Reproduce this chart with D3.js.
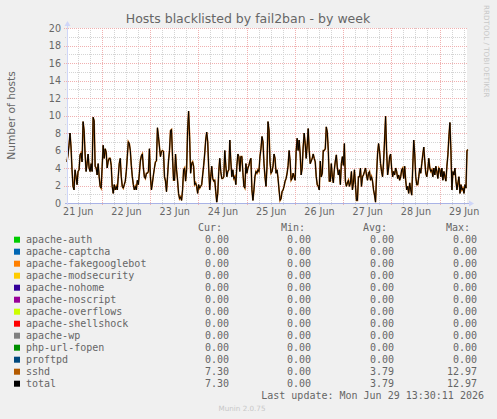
<!DOCTYPE html>
<html>
<head>
<meta charset="utf-8">
<script src="https://cdn.jsdelivr.net/npm/d3@7"></script>
<style>
body { margin: 0; background: #f0f0f0; }
svg { display: block; }
</style>
</head>
<body>
<script>
const width = 497;
const height = 419;

// plot area (canvas)
const x0 = 67, x1 = 467;
const yTop = 28, yBottom = 203;

const names = ["apache-auth", "apache-captcha", "apache-fakegooglebot", "apache-modsecurity",
    "apache-nohome", "apache-noscript", "apache-overflows", "apache-shellshock", "apache-wp",
    "php-url-fopen", "proftpd", "sshd", "total"];
const colors = ["#00CC00", "#0066B3", "#FF8000", "#FFCC00", "#330099", "#990099", "#CCFF00",
    "#FF0000", "#808080", "#008F00", "#00487D", "#B35A00", "#000000"];
const curVals = ["0.00", "0.00", "0.00", "0.00", "0.00", "0.00", "0.00", "0.00", "0.00", "0.00", "0.00", "7.30", "7.30"];
const minVals = ["0.00", "0.00", "0.00", "0.00", "0.00", "0.00", "0.00", "0.00", "0.00", "0.00", "0.00", "0.00", "0.00"];
const avgVals = ["0.00", "0.00", "0.00", "0.00", "0.00", "0.00", "0.00", "0.00", "0.00", "0.00", "0.00", "3.79", "3.79"];
const maxVals = ["0.00", "0.00", "0.00", "0.00", "0.00", "0.00", "0.00", "0.00", "0.00", "0.00", "0.00", "12.97", "12.97"];

const yMajor = [0, 2, 4, 6, 8, 10, 12, 14, 16, 18, 20];
const yMinor = [1, 3, 5, 7, 9, 11, 13, 15, 17, 19];
const dayLabels = ["21 Jun", "22 Jun", "23 Jun", "24 Jun", "25 Jun", "26 Jun", "27 Jun", "28 Jun", "29 Jun"];

const start = new Date(2026, 5, 21, 6, 40);
const end = new Date(2026, 5, 29, 13, 40);

// sshd, 30 min samples from start
const sshd = [
    4.7, 5.5, 6.6, 8.0, 6.4, 3.8, 1.9, 1.5, 3.8, 3.0, 2.1, 3.6, 3.8, 5.5, 5.7, 4.7, 9.3, 8.3, 5.6, 3.6,
    4.5, 5.6, 4.0, 3.6, 4.5, 3.6, 9.8, 9.4, 4.2, 4.0, 3.2, 4.5, 3.0, 1.9, 1.7, 4.2, 6.6, 5.1, 6.2, 5.8,
    4.0, 4.8, 5.1, 5.1, 4.3, 1.9, 1.1, 2.1, 1.5, 1.9, 1.5, 3.0, 4.5, 5.1, 3.0, 1.9, 1.7, 2.1, 2.5, 3.6,
    5.3, 7.0, 6.8, 6.0, 4.3, 3.0, 2.1, 1.5, 1.9, 1.5, 2.6, 2.1, 3.4, 4.8, 5.4, 5.6, 4.0, 3.0, 2.8, 3.4,
    3.4, 3.6, 6.2, 3.0, 1.5, 2.3, 3.2, 4.0, 4.7, 4.8, 8.6, 7.6, 6.4, 5.3, 5.9, 6.0, 5.9, 3.0, 2.5, 1.3,
    3.0, 4.8, 6.0, 8.3, 8.4, 5.3, 2.6, 2.6, 5.6, 3.8, 2.6, 1.1, 0.5, 0.7, 0.3, 1.5, 3.8, 4.0, 2.5, 3.8,
    8.3, 10.5, 7.6, 3.4, 4.5, 4.7, 4.2, 2.1, 2.3, 1.9, 1.1, 2.1, 1.7, 1.9, 2.1, 3.2, 4.3, 5.6, 7.2, 8.1,
    7.0, 4.0, 1.5, 3.0, 4.2, 2.8, 2.5, 2.6, 1.3, 0.1, 1.1, 3.6, 5.1, 3.6, 2.8, 2.8, 3.0, 6.0, 4.3, 3.0,
    3.6, 3.8, 7.2, 4.8, 3.0, 3.8, 2.8, 3.0, 2.1, 4.2, 5.6, 5.3, 3.6, 5.3, 5.3, 3.5, 1.9, 1.7, 4.5, 3.4,
    4.0, 4.3, 4.8, 5.1, 1.5, 0.3, 1.5, 3.0, 3.6, 3.4, 3.8, 3.6, 5.3, 6.2, 7.6, 7.0, 4.5, 3.0, 1.9, 4.2,
    9.3, 8.3, 4.7, 3.4, 3.6, 4.2, 5.6, 5.1, 3.4, 3.8, 2.8, 1.5, 0.3, 0.5, 1.3, 1.5, 1.9, 2.5, 2.8, 3.4,
    4.3, 6.0, 4.8, 2.6, 2.8, 3.4, 3.0, 2.6, 5.9, 7.4, 6.0, 7.2, 5.6, 3.2, 4.0, 6.4, 8.0, 6.8, 5.1, 6.6,
    8.5, 6.0, 4.5, 4.8, 5.1, 5.6, 5.1, 4.7, 3.0, 2.1, 1.9, 1.5, 4.8, 3.0, 3.4, 6.0, 6.0, 6.2, 8.7, 8.1,
    6.0, 2.5, 2.5, 4.5, 3.0, 2.3, 3.8, 4.8, 5.5, 4.0, 3.2, 3.8, 2.1, 4.5, 5.3, 4.3, 6.8, 2.5, 1.9, 2.3,
    2.6, 1.9, 2.3, 3.6, 1.5, 2.3, 3.8, 2.1, 0.3, 0.3, 3.0, 3.0, 4.0, 1.9, 3.0, 3.2, 3.6, 4.0, 3.2, 2.6,
    3.4, 3.6, 2.6, 3.0, 2.5, 1.5, 0.9, 0.1, 3.2, 5.6, 6.8, 5.9, 4.5, 3.6, 3.0, 4.7, 7.2, 9.9, 6.0, 3.2,
    4.0, 5.3, 5.6, 4.0, 3.0, 3.6, 3.2, 4.0, 3.6, 2.8, 3.2, 2.6, 3.0, 3.8, 4.0, 2.8, 4.2, 2.6, 1.5, 1.9,
    1.1, 2.3, 1.5, 0.9, 4.0, 7.2, 5.6, 3.0, 2.1, 2.1, 3.0, 4.0, 3.4, 4.5, 5.5, 6.4, 4.8, 3.4, 3.0, 3.8,
    5.1, 4.0, 3.6, 3.8, 3.0, 4.0, 3.2, 4.2, 3.6, 2.8, 4.0, 3.8, 3.0, 4.0, 2.6, 3.6, 3.0, 2.5, 4.2, 5.5,
    7.6, 9.2, 6.0, 1.5, 3.6, 3.2, 4.0, 2.5, 1.5, 2.3, 3.0, 1.1, 2.1, 1.5, 1.7, 1.1, 2.1, 1.7, 6.0, 6.1
];
const total = sshd;

const font = "'DejaVu Sans', sans-serif";
const mono = "'DejaVu Sans Mono', monospace";
const textColor = "#666666";

const svg = d3.select("body").append("svg")
    .attr("width", width).attr("height", height)
    .style("background-color", "#f0f0f0");

const xScale = d3.scaleTime().domain([start, end]).range([x0, x1]);
const yScale = d3.scaleLinear().domain([0, 20]).range([yBottom, yTop]);

// canvas
svg.append("rect").attr("x", x0).attr("y", yTop)
    .attr("width", x1 - x0).attr("height", yBottom - yTop)
    .attr("fill", "#ffffff");

// minor grid
const sixHours = d3.timeHour.every(6).range(start, end).filter(d => d.getHours() !== 0);
svg.append("g").selectAll("line").data(sixHours).enter().append("line")
    .attr("x1", d => Math.round(xScale(d)) + 0.5).attr("x2", d => Math.round(xScale(d)) + 0.5)
    .attr("y1", yTop).attr("y2", yBottom + 2)
    .attr("stroke", "#d4d4d4").attr("stroke-dasharray", "1,1");

svg.append("g").selectAll("line").data(yMinor).enter().append("line")
    .attr("x1", x0 - 2).attr("x2", x1)
    .attr("y1", d => Math.round(yScale(d)) + 0.5).attr("y2", d => Math.round(yScale(d)) + 0.5)
    .attr("stroke", "#d4d4d4").attr("stroke-dasharray", "1,1");

// major grid
const midnights = d3.timeDay.range(start, end);
svg.append("g").selectAll("line").data(midnights).enter().append("line")
    .attr("x1", d => Math.round(xScale(d)) + 0.5).attr("x2", d => Math.round(xScale(d)) + 0.5)
    .attr("y1", yTop).attr("y2", yBottom + 3)
    .attr("stroke", "#f0b0b0").attr("stroke-dasharray", "1,1");

svg.append("g").selectAll("line").data(yMajor.slice(1)).enter().append("line")
    .attr("x1", x0 - 3).attr("x2", x1)
    .attr("y1", d => Math.round(yScale(d)) + 0.5).attr("y2", d => Math.round(yScale(d)) + 0.5)
    .attr("stroke", "#f0b0b0").attr("stroke-dasharray", "1,1");

// y tick labels
const yAxis = d3.axisLeft(yScale).tickValues(yMajor).tickSize(0).tickPadding(6);
const gy = svg.append("g").attr("transform", "translate(" + x0 + ",0)").call(yAxis);
gy.select(".domain").remove();
gy.selectAll("text").attr("font-family", font).attr("font-size", "9.6px").attr("fill", textColor);

// x day labels at noon
const noons = dayLabels.map((d, i) => new Date(2026, 5, 21 + i, 12, 0));
const xAxis = d3.axisBottom(xScale).tickValues(noons).tickSize(0).tickPadding(5)
    .tickFormat((d, i) => dayLabels[i]);
const gx = svg.append("g").attr("transform", "translate(0," + yBottom + ")").call(xAxis);
gx.select(".domain").remove();
gx.selectAll("text").attr("font-family", font).attr("font-size", "9.6px").attr("fill", textColor);

// data lines
const line = d3.line()
    .x((d, i) => xScale(d3.timeMinute.offset(start, 30 * i)))
    .y(d => yScale(d));
const zeroLine = d3.line()
    .x((d, i) => xScale(d3.timeMinute.offset(start, 30 * i)))
    .y(d => yScale(d) + 0.5);

names.slice(0, 11).forEach((n, k) => {
    svg.append("path").datum(sshd.map(() => 0)).attr("d", zeroLine)
        .attr("fill", "none").attr("stroke", colors[k]).attr("stroke-width", 1);
});
svg.append("path").datum(sshd).attr("d", line)
    .attr("fill", "none").attr("stroke", colors[11]).attr("stroke-width", 1.6);
svg.append("path").datum(total).attr("d", line)
    .attr("fill", "none").attr("stroke", colors[12]).attr("stroke-width", 1);

// axes with arrows
svg.append("line").attr("x1", x0 - 2).attr("x2", x1 + 3)
    .attr("y1", yBottom + 0.5).attr("y2", yBottom + 0.5)
    .attr("stroke", "#a9b3e6");
svg.append("path").attr("d", `M${x1 + 2},${yBottom - 2.5} L${x1 + 7},${yBottom + 0.5} L${x1 + 2},${yBottom + 3.5} Z`)
    .attr("fill", "#cfd6f8");
svg.append("line").attr("x1", x0 + 0.5).attr("x2", x0 + 0.5)
    .attr("y1", yBottom + 2).attr("y2", yTop - 3)
    .attr("stroke", "#cfd6f8");
svg.append("path").attr("d", `M${x0 - 2.5},${yTop - 2} L${x0 + 0.5},${yTop - 7} L${x0 + 3.5},${yTop - 2} Z`)
    .attr("fill", "#cfd6f8");

// title
svg.append("text").attr("x", 248).attr("y", 23).attr("text-anchor", "middle")
    .attr("font-family", font).attr("font-size", "12.5px").attr("fill", textColor)
    .text("Hosts blacklisted by fail2ban - by week");

// y axis title
svg.append("text").attr("transform", "translate(15," + ((yTop + yBottom) / 2) + ") rotate(-90)")
    .attr("text-anchor", "middle")
    .attr("font-family", font).attr("font-size", "10.7px").attr("fill", textColor)
    .text("Number of hosts");

// watermark
svg.append("text").attr("transform", "translate(484,5) rotate(90)")
    .attr("font-family", font).attr("font-size", "7.2px").attr("fill", "#c8c8c8")
    .text("RRDTOOL / TOBI OETIKER");

// legend
const rowY = 239.7, rowStep = 12;
const legend = svg.append("g").attr("font-family", mono).attr("font-size", "10px").attr("fill", textColor);
[["Cur:", 198], ["Min:", 281], ["Avg:", 363], ["Max:", 446]].forEach(h => {
    legend.append("text").attr("x", h[1]).attr("y", rowY - rowStep + 3.5).text(h[0]);
});
const rows = legend.selectAll("g.row").data(names).enter().append("g")
    .attr("transform", (d, i) => "translate(0," + (rowY + i * rowStep) + ")");
rows.append("rect").attr("x", 14).attr("y", -3).attr("width", 6).attr("height", 6)
    .attr("fill", (d, i) => colors[i]);
rows.append("text").attr("x", 26).attr("y", 3.5).text(d => d);
rows.append("text").attr("x", 229).attr("y", 3.5).attr("text-anchor", "end").text((d, i) => curVals[i]);
rows.append("text").attr("x", 311).attr("y", 3.5).attr("text-anchor", "end").text((d, i) => minVals[i]);
rows.append("text").attr("x", 394).attr("y", 3.5).attr("text-anchor", "end").text((d, i) => avgVals[i]);
rows.append("text").attr("x", 477).attr("y", 3.5).attr("text-anchor", "end").text((d, i) => maxVals[i]);

legend.append("text").attr("x", 484).attr("y", rowY + names.length * rowStep + 3.5)
    .attr("text-anchor", "end").text("Last update: Mon Jun 29 13:30:11 2026");

svg.append("text").attr("x", 242).attr("y", 411).attr("text-anchor", "middle")
    .attr("font-family", font).attr("font-size", "7.2px").attr("fill", "#c8c8c8")
    .text("Munin 2.0.75");
</script>
</body>
</html>
